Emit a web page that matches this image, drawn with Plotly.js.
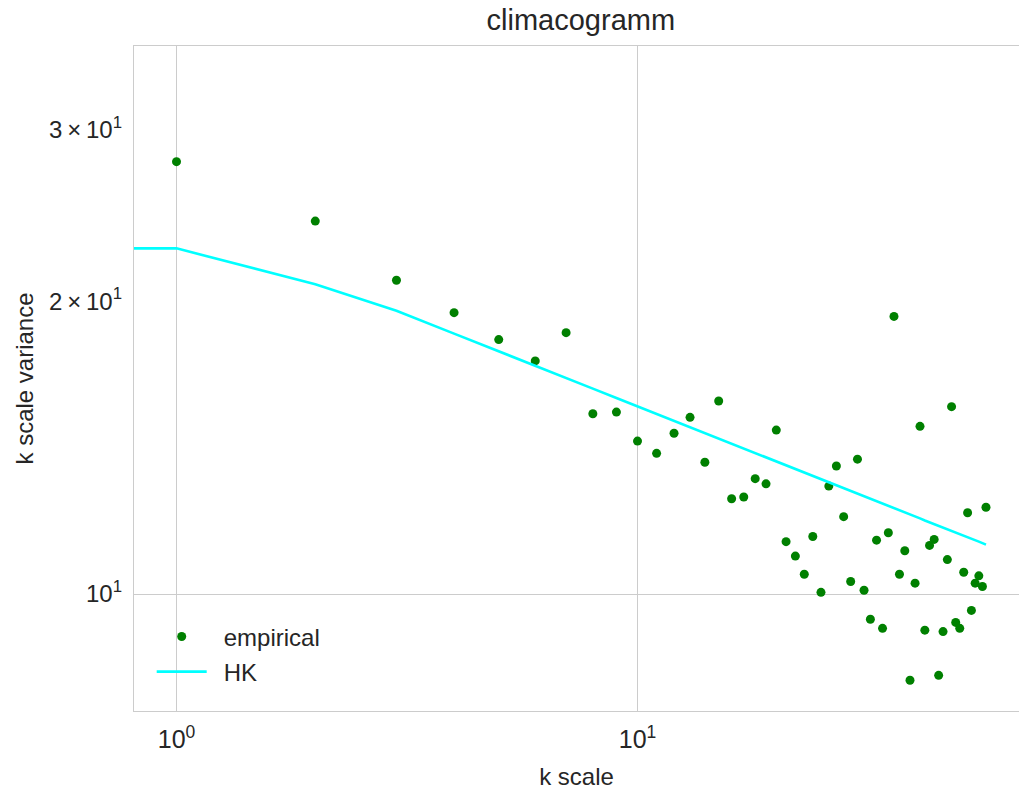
<!DOCTYPE html>
<html>
<head>
<meta charset="utf-8">
<script src="https://cdn.plot.ly/plotly-3.0.1.min.js"></script>
<style>html,body{margin:0;padding:0;background:#fff;}#chart{width:1019px;height:792px;}</style>
</head>
<body>
<div id="chart"></div>
<script>
var kScale = [1,2,3,4,5,6,7,8,9,10,11,12,13,14,15,16,17,18,19,20,21,22,23,24,25,26,27,28,29,30,31,32,33,34,35,36,37,38,39,40,41,42,43,44,45,46,47,48,49,50,51,52,53,54,55,56,57];
var empiricalVar = [27.82,24.17,21.01,19.46,18.26,17.36,18.56,15.32,15.38,14.36,13.95,14.63,15.19,13.66,15.79,12.53,12.58,13.14,12.98,14.74,11.32,10.94,10.48,11.46,10.04,12.91,13.54,12.01,10.30,13.76,10.09,9.42,11.36,9.22,11.56,19.29,10.48,11.08,8.155,10.26,14.87,9.18,11.22,11.38,8.25,9.15,10.85,15.58,9.35,9.22,10.53,12.12,9.62,10.26,10.44,10.18,12.28];
var hkScale = [0.5,1,2,3,4,5,6,7,8,9,10,11,12,13,14,15,16,17,18,19,20,21,22,23,24,25,26,27,28,29,30,31,32,33,34,35,36,37,38,39,40,41,42,43,44,45,46,47,48,49,50,51,52,53,54,55,56,57];
var hkVar = [22.66,22.66,20.81,19.55,18.52,17.77,17.16,16.67,16.26,15.90,15.59,15.31,15.07,14.84,14.64,14.45,14.28,14.12,13.96,13.82,13.69,13.56,13.45,13.33,13.23,13.13,13.03,12.94,12.85,12.76,12.68,12.60,12.53,12.46,12.39,12.32,12.26,12.20,12.13,12.07,12.02,11.96,11.90,11.85,11.80,11.75,11.70,11.66,11.61,11.57,11.52,11.48,11.44,11.40,11.36,11.32,11.28,11.24];
var xTickVals = [1,10];
var xTickText = ['10<sup>0</sup>','10<sup>1</sup>'];
var yTickVals = [10,20,30];
var yTickText = ['10<sup>1</sup>','2\u2009\u00d7\u200910<sup>1</sup>','3\u2009\u00d7\u200910<sup>1</sup>'];

var textColor = '#262626';
var gridColor = '#cccccc';

var traces = [
  {x: kScale, y: empiricalVar, type: 'scatter', mode: 'markers', name: '\u2002empirical',
   legendgroup: 'a', marker: {color: '#008000', size: 9}},
  {x: hkScale, y: hkVar, type: 'scatter', mode: 'lines', name: '\u2002HK',
   legendgroup: 'b', line: {color: '#00ffff', width: 2.6}},
  {x: [1], y: [10], type: 'scatter', mode: 'markers', yaxis: 'y2', showlegend: false,
   marker: {opacity: 0}, hoverinfo: 'skip'}
];

var layout = {
  width: 1019, height: 792,
  margin: {l: 134, r: 0, t: 46, b: 81},
  paper_bgcolor: '#ffffff', plot_bgcolor: '#ffffff',
  font: {family: 'Liberation Sans, Arial, sans-serif', color: textColor, size: 24},
  title: {text: 'climacogramm', x: 0.570, xanchor: 'center', y: 0.975, yanchor: 'middle',
          font: {size: 29, color: textColor}},
  xaxis: {type: 'log', range: [-0.0922, 1.8275], tickvals: xTickVals, ticktext: xTickText,
          showgrid: true, gridcolor: gridColor, gridwidth: 1, zeroline: false,
          showline: true, linecolor: gridColor, linewidth: 1.2, mirror: true, ticks: '',
          ticklabelstandoff: 6,
          tickfont: {size: 25, color: textColor},
          title: {text: 'k scale', font: {size: 24, color: textColor}, standoff: 16}},
  yaxis: {type: 'log', range: [0.8798, 1.5632], tickvals: yTickVals, ticktext: yTickText,
          showgrid: false, zeroline: false,
          showline: true, linecolor: gridColor, linewidth: 1.2, mirror: true, ticks: '',
          ticklabelstandoff: 6,
          tickfont: {size: 24, color: textColor},
          title: {text: 'k scale variance', font: {size: 24, color: textColor}, standoff: 8}},
  yaxis2: {type: 'log', range: [0.8798, 1.5632], overlaying: 'y', side: 'left',
           tickvals: [10], showticklabels: false, showgrid: true, gridcolor: gridColor,
           gridwidth: 1, zeroline: false, showline: false, ticks: ''},
  legend: {x: 0.02, y: 0.025, xanchor: 'left', yanchor: 'bottom', bgcolor: 'rgba(0,0,0,0)',
           font: {size: 24, color: textColor}, itemwidth: 50, tracegroupgap: 1},
  showlegend: true
};

Plotly.newPlot('chart', traces, layout, {displayModeBar: false, staticPlot: true});
</script>
</body>
</html>
